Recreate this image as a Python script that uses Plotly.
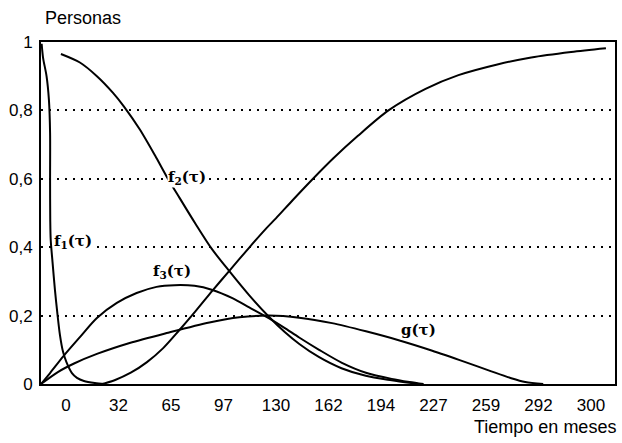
import plotly.graph_objects as go

# Time axis in months, proportions of persons on the vertical axis
f1_t = [-15.0, -14.1, -12.0, -10.5, -9.8, -9.8, -9.7, -9.4, -8.3, -6.8, -5.2, -3.7, -1.8, 0.3, 3.7, 6.8, 11.1, 17.8, 24.0]
f1_v = [0.995, 0.953, 0.901, 0.830, 0.734, 0.596, 0.480, 0.421, 0.357, 0.275, 0.202, 0.143, 0.094, 0.064, 0.032, 0.018, 0.009, 0.003, 0.0]

f2_t = [-3.1, 8.6, 19.1, 28.9, 35.7, 45.5, 55.0, 62.1, 70.0, 80.0, 90.0, 100.8, 113.0, 125.4, 135.0, 144.0, 156.0, 170.0, 185.0, 201.0, 217.6]
f2_v = [0.965, 0.940, 0.900, 0.852, 0.812, 0.745, 0.668, 0.607, 0.545, 0.468, 0.395, 0.330, 0.260, 0.196, 0.152, 0.117, 0.079, 0.046, 0.024, 0.011, 0.0]

f3_t = [-15.4, -9.8, -1.8, 8.6, 19.1, 31.4, 43.6, 55.9, 67.0, 79.3, 90.4, 102.7, 113.1, 125.4, 134.6, 143.9, 156.2, 170.3, 185.1, 201.0, 212.0, 220.7]
f3_v = [0.0, 0.032, 0.080, 0.137, 0.193, 0.237, 0.266, 0.284, 0.289, 0.287, 0.275, 0.251, 0.224, 0.192, 0.165, 0.136, 0.100, 0.062, 0.033, 0.015, 0.006, 0.0]

g_t = [-15.4, -5.0, 5.0, 19.1, 39.3, 62.1, 88.5, 107.0, 125.4, 143.9, 164.2, 185.1, 205.3, 225.6, 246.5, 262.5, 274.8, 283.4, 294.5]
g_v = [0.0, 0.035, 0.060, 0.088, 0.120, 0.149, 0.180, 0.195, 0.200, 0.194, 0.178, 0.154, 0.128, 0.098, 0.064, 0.037, 0.017, 0.006, 0.0]

h_t = [22.7, 30.0, 40.0, 50.0, 60.0, 69.5, 80.0, 90.4, 100.8, 113.1, 123.6, 129.7, 140.0, 152.0, 165.0, 180.0, 199.0, 221.9, 242.2, 266.8, 287.1, 311.7, 333.2]
h_v = [0.0, 0.011, 0.033, 0.064, 0.105, 0.155, 0.213, 0.273, 0.331, 0.399, 0.455, 0.485, 0.538, 0.598, 0.660, 0.725, 0.800, 0.863, 0.903, 0.935, 0.955, 0.971, 0.982]

x_tick_vals = [0, 32.4, 64.8, 97.2, 129.6, 162.0, 194.4, 226.8, 259.2, 291.6, 324.0]
x_tick_text = ["0", "32", "65", "97", "130", "162", "194", "227", "259", "292", "300"]
y_tick_vals = [0, 0.2, 0.4, 0.6, 0.8, 1.0]
y_tick_text = ["0", "0,2", "0,4", "0,6", "0,8", "1"]

curve_labels = ["f<sub>1</sub>(τ)", "f<sub>2</sub>(τ)", "f<sub>3</sub>(τ)", "g(τ)"]
label_t = [4.3, 74.5, 65.2, 217.6]
label_v = [0.418, 0.605, 0.33, 0.158]

fig = go.Figure()
for t, v in [(f1_t, f1_v), (f2_t, f2_v), (f3_t, f3_v), (g_t, g_v), (h_t, h_v)]:
    fig.add_trace(go.Scatter(
        x=t, y=v, mode="lines",
        line=dict(color="black", width=2, shape="spline", smoothing=0.8),
        showlegend=False, hoverinfo="skip",
    ))

for txt, t, v in zip(curve_labels, label_t, label_v):
    fig.add_annotation(
        x=t, y=v, text=txt, showarrow=False,
        font=dict(family="DejaVu Serif", size=15, color="black", weight="bold"),
        bgcolor="white", borderpad=0,
    )

fig.add_annotation(
    xref="paper", yref="paper", x=0.003, y=1.07, text="Personas",
    showarrow=False, xanchor="left", yanchor="middle",
    font=dict(family="Liberation Sans", size=18, color="black"),
)
fig.add_annotation(
    xref="paper", yref="paper", x=1.005, y=-0.126, text="Tiempo en meses",
    showarrow=False, xanchor="right", yanchor="middle",
    font=dict(family="Liberation Sans", size=18, color="black"),
)

fig.update_xaxes(
    range=[-15.4, 338.8], tickvals=x_tick_vals, ticktext=x_tick_text,
    showgrid=False, zeroline=False,
    showline=True, linecolor="black", linewidth=2, mirror=True,
    ticks="outside", ticklen=5, tickcolor="rgba(0,0,0,0)",
    tickfont=dict(family="Liberation Sans", size=17, color="black"),
)
fig.update_yaxes(
    range=[0, 1.0], tickvals=y_tick_vals, ticktext=y_tick_text,
    showgrid=True, gridcolor="black", gridwidth=1.5, griddash="2px,6px",
    zeroline=False,
    showline=True, linecolor="black", linewidth=2, mirror=True,
    ticks="outside", ticklen=3, tickcolor="rgba(0,0,0,0)",
    tickfont=dict(family="Liberation Sans", size=17, color="black"),
)

fig.update_layout(
    width=622, height=443,
    margin=dict(l=41, r=5, t=42, b=59),
    paper_bgcolor="white", plot_bgcolor="white",
)

fig.write_html("out.html")
